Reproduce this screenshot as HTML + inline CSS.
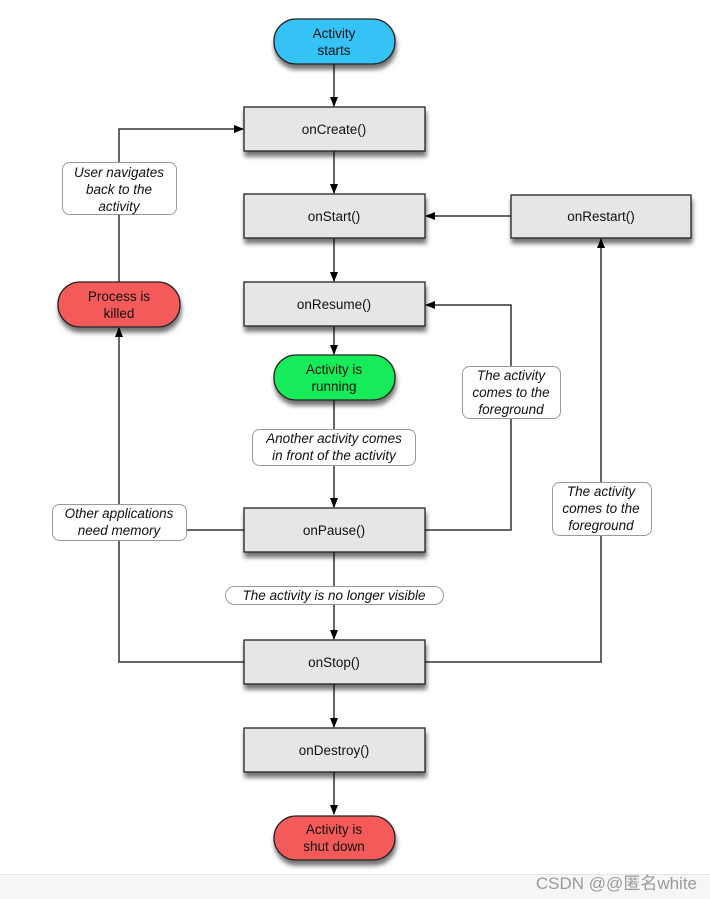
<!DOCTYPE html>
<html><head><meta charset="utf-8"><style>
html,body{margin:0;padding:0;background:#fff;}
svg{display:block;}
text{font-family:"Liberation Sans","Noto Sans CJK SC",sans-serif;}
</style></head><body>
<svg width="710" height="899" viewBox="0 0 710 899" xmlns="http://www.w3.org/2000/svg">
<defs>
<filter id="sh" x="-10%" y="-20%" width="130%" height="160%">
<feGaussianBlur in="SourceAlpha" stdDeviation="2.5"/>
<feOffset dx="1" dy="5" result="b"/>
<feComponentTransfer><feFuncA type="linear" slope="0.55"/></feComponentTransfer>
<feMerge><feMergeNode/><feMergeNode in="SourceGraphic"/></feMerge>
</filter>
<marker id="ar" markerWidth="10" markerHeight="10" refX="9" refY="5" orient="auto" markerUnits="userSpaceOnUse">
<path d="M0,1 L10,5 L0,9 Z" fill="#000"/>
</marker>
</defs>
<rect x="0" y="874" width="710" height="25" fill="#f5f6f7"/>
<line x1="0" y1="874.5" x2="710" y2="874.5" stroke="#e3e4e6"/>
<text x="697" y="889" font-size="17" fill="#9a9a9a" text-anchor="end">CSDN @@匿名white</text>

<g stroke="#333" stroke-width="1.5" fill="none">
<line x1="334" y1="64" x2="334" y2="106" marker-end="url(#ar)"/>
<line x1="334" y1="151" x2="334" y2="193" marker-end="url(#ar)"/>
<line x1="334" y1="238" x2="334" y2="281" marker-end="url(#ar)"/>
<line x1="334" y1="326" x2="334" y2="354" marker-end="url(#ar)"/>
<line x1="334" y1="400" x2="334" y2="507" marker-end="url(#ar)"/>
<line x1="334" y1="552" x2="334" y2="639" marker-end="url(#ar)"/>
<line x1="334" y1="684" x2="334" y2="727" marker-end="url(#ar)"/>
<line x1="334" y1="772" x2="334" y2="814" marker-end="url(#ar)"/>
<line x1="511" y1="216" x2="426" y2="216" marker-end="url(#ar)"/>
<polyline points="425,530 511,530 511,305 426,305" marker-end="url(#ar)"/>
<polyline points="425,662 601,662 601,239" marker-end="url(#ar)"/>
<polyline points="244,662 119,662 119,328" marker-end="url(#ar)"/>
<line x1="244" y1="530" x2="119" y2="530"/>
<polyline points="119,282 119,129 243,129" marker-end="url(#ar)"/>
</g>

<g filter="url(#sh)" stroke="#222" stroke-width="1.3">
<rect x="274" y="19" width="121" height="45" rx="22" fill="#36c2f5"/>
<rect x="274" y="355" width="121" height="45" rx="22" fill="#19ec5a"/>
<rect x="274" y="816" width="121" height="44" rx="22" fill="#f55a5a"/>
<rect x="58" y="282" width="122" height="45" rx="22" fill="#f55a5a"/>
<rect x="244" y="107" width="181" height="44" fill="#e6e6e6"/>
<rect x="244" y="194" width="181" height="44" fill="#e6e6e6"/>
<rect x="511" y="195" width="180" height="43" fill="#e6e6e6"/>
<rect x="244" y="282" width="181" height="44" fill="#e6e6e6"/>
<rect x="244" y="508" width="181" height="44" fill="#e6e6e6"/>
<rect x="244" y="640" width="181" height="44" fill="#e6e6e6"/>
<rect x="244" y="728" width="181" height="44" fill="#e6e6e6"/>
</g>

<g fill="#fff" stroke="#999" stroke-width="1">
<rect x="62.5" y="162.5" width="114" height="52" rx="7"/>
<rect x="252.5" y="429.5" width="163" height="36" rx="7"/>
<rect x="52.5" y="504.5" width="134" height="36" rx="7"/>
<rect x="225.5" y="586.5" width="218" height="18" rx="9"/>
<rect x="462.5" y="366.5" width="98" height="52" rx="7"/>
<rect x="552.5" y="482.5" width="99" height="53" rx="7"/>
</g>

<g font-size="13.5" fill="#111" text-anchor="middle">
<text x="334" y="38">Activity</text><text x="334" y="55">starts</text>
<text x="334" y="374">Activity is</text><text x="334" y="391">running</text>
<text x="334" y="834">Activity is</text><text x="334" y="851">shut down</text>
<text x="119" y="301">Process is</text><text x="119" y="318">killed</text>
<text x="334" y="134">onCreate()</text>
<text x="334" y="221">onStart()</text>
<text x="601" y="221">onRestart()</text>
<text x="334" y="309">onResume()</text>
<text x="334" y="535">onPause()</text>
<text x="334" y="667">onStop()</text>
<text x="334" y="755">onDestroy()</text>
</g>
<g font-size="13.5" fill="#111" text-anchor="middle" font-style="italic">
<text x="119" y="177">User navigates</text><text x="119" y="194">back to the</text><text x="119" y="211">activity</text>
<text x="334" y="443">Another activity comes</text><text x="334" y="460">in front of the activity</text>
<text x="119" y="518">Other applications</text><text x="119" y="535">need memory</text>
<text x="334" y="600">The activity is no longer visible</text>
<text x="511" y="380">The activity</text><text x="511" y="397">comes to the</text><text x="511" y="414">foreground</text>
<text x="601" y="496">The activity</text><text x="601" y="513">comes to the</text><text x="601" y="530">foreground</text>
</g>
</svg>
</body></html>
